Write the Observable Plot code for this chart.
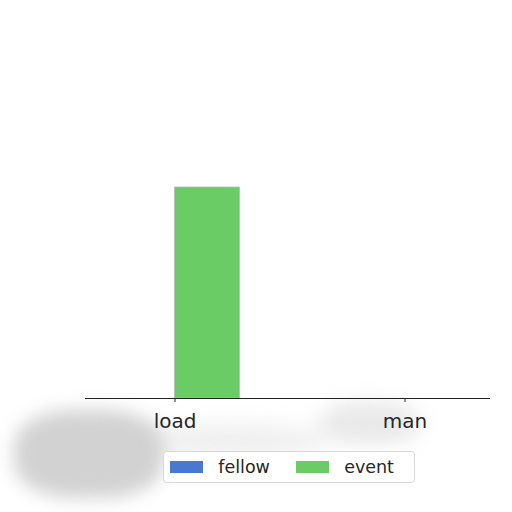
<!DOCTYPE html>
<html>
<head>
<meta charset="utf-8">
<script src="https://cdn.jsdelivr.net/npm/d3@7"></script>
<script src="https://cdn.jsdelivr.net/npm/@observablehq/plot@0.6"></script>
<style>
  html, body { margin: 0; padding: 0; background: #fff; }
  body { width: 512px; height: 512px; overflow: hidden; position: relative; font-family: "DejaVu Sans", sans-serif; }
  .blob { position: absolute; background: #d2d2d2; }
  #chart { position: absolute; left: 0; top: 0; }
  #legend {
    position: absolute; left: 163px; top: 451px; width: 252px; height: 32px;
    border: 1px solid #d8d8d8; border-radius: 4px; background: #fff;
    box-sizing: border-box; display: flex; align-items: center; font-size: 17.5px; color: #262626;
  }
  .sw { display: inline-block; width: 35px; height: 12px; margin-left: 6px; margin-right: 15px; }
  .lab { margin-right: 20px; }
</style>
</head>
<body>
<div class="blob" style="left:14px;top:410px;width:150px;height:88px;border-radius:40%;filter:blur(9px);"></div>
<div class="blob" style="left:130px;top:428px;width:200px;height:26px;border-radius:45%;filter:blur(12px);opacity:0.45;"></div>
<div class="blob" style="left:320px;top:402px;width:100px;height:42px;border-radius:45%;filter:blur(10px);opacity:0.5;"></div>
<div id="chart"></div>
<div id="legend"></div>
<script>
const categories = ["load", "man"];
const seriesNames = ["fellow", "event"];
const fellow = [0, 0];
const event = [4, 0];
const colors = ["#4878d0", "#6acc64"];

const rows = [];
categories.forEach((c, i) => {
  rows.push({category: c, series: "fellow", value: fellow[i]});
  rows.push({category: c, series: "event", value: event[i]});
});

const plot = Plot.plot({
  width: 512,
  height: 440,
  marginLeft: 85,
  marginRight: 22,
  marginTop: 187,
  marginBottom: 42,
  style: {fontFamily: "DejaVu Sans, sans-serif", fontSize: "20px", color: "#262626", background: "transparent", overflow: "visible"},
  x: {domain: categories, paddingInner: 0.7186, paddingOuter: 0.236, align: 0.518, label: null, tickSize: 4, tickPadding: 11},
  y: {domain: [0, 4], axis: null},
  color: {domain: seriesNames, range: colors},
  marks: [
    Plot.barY(rows.filter(d => d.series === "fellow"), {x: "category", y: "value", fill: "series", stroke: "#bbbbbb", strokeWidth: 0.8, dx: -32.5}),
    Plot.barY(rows.filter(d => d.series === "event"), {x: "category", y: "value", fill: "series", stroke: "#bbbbbb", strokeWidth: 0.8, dx: 32.5}),
    Plot.ruleY([0], {stroke: "#222", strokeWidth: 1.2})
  ]
});
document.getElementById("chart").appendChild(plot);

const legend = document.getElementById("legend");
seriesNames.forEach((s, i) => {
  const sw = document.createElement("span");
  sw.className = "sw";
  sw.style.background = colors[i];
  const lab = document.createElement("span");
  lab.className = "lab";
  lab.textContent = s;
  legend.appendChild(sw);
  legend.appendChild(lab);
});
</script>
</body>
</html>
